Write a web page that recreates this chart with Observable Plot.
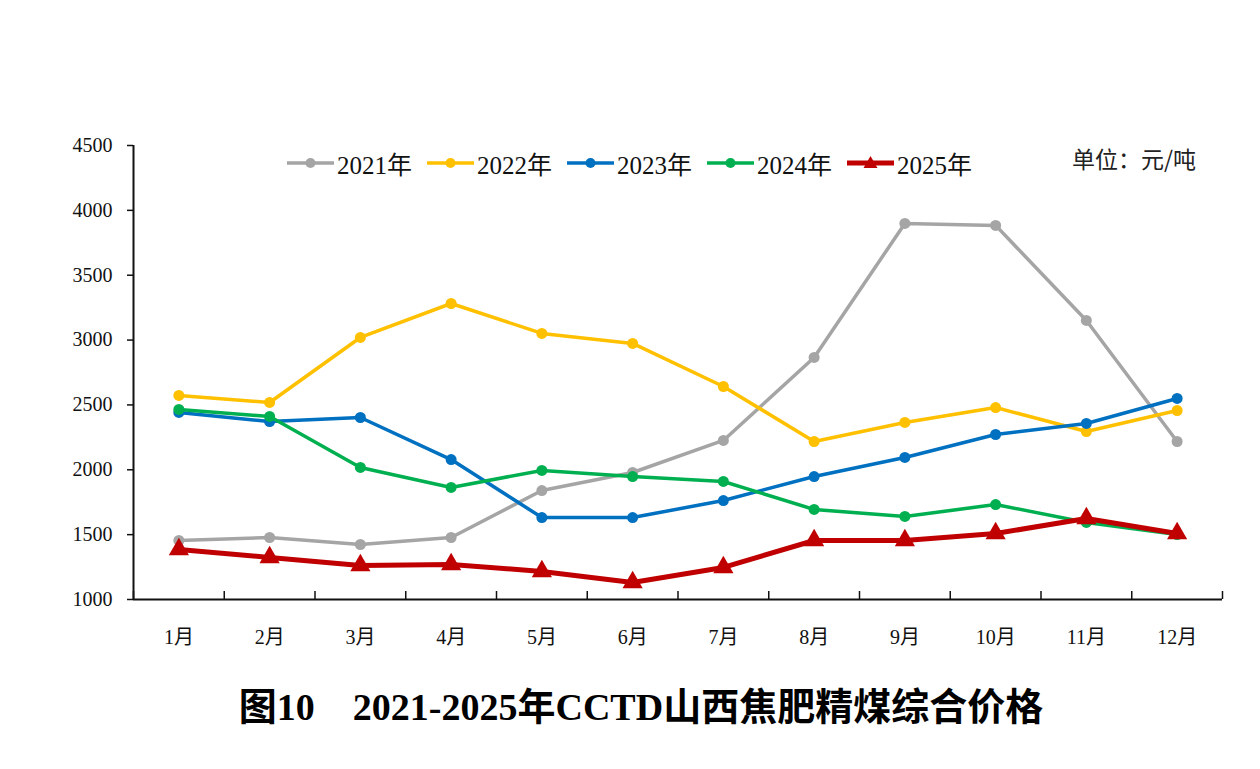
<!DOCTYPE html>
<html>
<head>
<meta charset="utf-8">
<script src="https://cdn.jsdelivr.net/npm/d3@7"></script>
<script src="https://cdn.jsdelivr.net/npm/@observablehq/plot@0.6"></script>
<style>
  body { margin: 0; background: #fff; }
  #wrap { position: relative; width: 1260px; height: 769px; background: #fff; overflow: hidden; }
  #chart { position: absolute; left: 0; top: 0; }
  #legend { position: absolute; left: 287px; top: 145px; display: flex; gap: 15px; align-items: center;
            font-family: "Liberation Serif", "Noto Sans CJK SC", serif; font-size: 25px; color: #111; }
  .item { display: flex; align-items: center; gap: 3px; }
  #unit { position: absolute; left: 1072px; top: 141px; font-family: "Noto Sans CJK SC", sans-serif; font-size: 23px; color: #222; }
  #title { position: absolute; left: 0; width: 1282px; top: 676px; text-align: center; white-space: pre;
           font-family: "Liberation Serif", "Noto Sans CJK SC", serif; font-weight: bold; font-size: 38px; color: #000; }
</style>
</head>
<body>
<div id="wrap">
  <div id="chart"></div>
  <div id="legend"></div>
  <div id="unit">单位：元/吨</div>
  <div id="title">图10    2021-2025年CCTD山西焦肥精煤综合价格</div>
</div>
<script>
const monthLabels = ["1月","2月","3月","4月","5月","6月","7月","8月","9月","10月","11月","12月"];
const years = ["2021年","2022年","2023年","2024年","2025年"];
const colors = ["#a5a5a5","#ffc000","#0070c0","#00b050","#c00000"];
const yTicks = [1000,1500,2000,2500,3000,3500,4000,4500];

const v2021 = [1455,1478,1424,1478,1840,1979,2226,2866,3899,3884,3151,2218];
const v2022 = [2573,2519,3020,3282,3051,2974,2642,2218,2365,2480,2295,2457];
const v2023 = [2442,2372,2403,2079,1632,1632,1763,1948,2095,2272,2357,2550];
const v2024 = [2465,2411,2018,1864,1995,1948,1910,1694,1640,1732,1594,1501];
const v2025 = [1386,1324,1262,1270,1216,1131,1247,1455,1455,1509,1625,1509];

const series = [v2021, v2022, v2023, v2024, v2025];
const rows = [];
series.forEach((vals, si) => vals.forEach((v, i) => rows.push({year: years[si], m: i + 1, v})));

const monthNums = monthLabels.map((_, i) => i + 1);
const bounds = [0, ...monthNums].map(d => d + 0.5);

const marks = [
  Plot.ruleY([1000], {stroke: "#111", strokeWidth: 2}),
  Plot.ruleX([bounds[0]], {stroke: "#111", strokeWidth: 2}),
  Plot.ruleX(bounds, {x: d => d, y1: 1000, y2: 1000, insetTop: -8, stroke: "#111", strokeWidth: 1.5}),
  Plot.axisY({ticks: yTicks, tickSize: 6, tickPadding: 15, label: null,
              tickFormat: d => String(d), stroke: "#111", strokeWidth: 1.5}),
  Plot.axisX({ticks: monthNums, tickSize: 0, tickPadding: 30, label: null,
              tickFormat: d => monthLabels[d - 1]})
];
years.forEach((y, si) => {
  const d = rows.filter(r => r.year === y);
  const last = si === 4;
  marks.push(Plot.line(d, {x: "m", y: "v", stroke: colors[si], strokeWidth: last ? 5 : 3.5}));
  marks.push(Plot.dot(d, {x: "m", y: "v", fill: colors[si], stroke: "none",
    r: last ? 7.5 : 5.5, symbol: last ? "triangle" : "circle"}));
});

const chart = Plot.plot({
  width: 1260, height: 660,
  marginLeft: 133, marginRight: 38, marginTop: 145, marginBottom: 61,
  x: {type: "linear", domain: [0.5, 12.5], axis: null},
  y: {domain: [1000, 4500], axis: null},
  style: {background: "#fff", color: "#111", fontFamily: "'Liberation Serif', 'Noto Sans CJK SC', serif", fontSize: "20px"},
  marks
});
document.getElementById("chart").appendChild(chart);

const legend = document.getElementById("legend");
years.forEach((y, si) => {
  const item = document.createElement("div");
  item.className = "item";
  const marker = si === 4
    ? `<polygon points="23.5,3 30.5,15 16.5,15" fill="${colors[si]}"/>`
    : `<circle cx="23.5" cy="10" r="5" fill="${colors[si]}"/>`;
  item.innerHTML = `<svg width="47" height="20"><line x1="0" y1="10" x2="47" y2="10" stroke="${colors[si]}" stroke-width="${si===4?5:3.5}"/>${marker}</svg><span>${y}</span>`;
  legend.appendChild(item);
});
</script>
</body>
</html>
